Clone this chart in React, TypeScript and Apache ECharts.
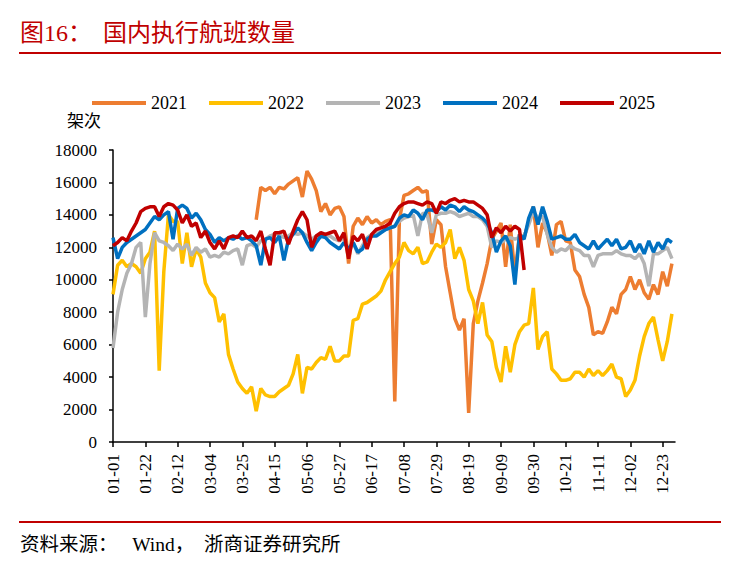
import React, { useEffect, useRef } from "react";
import * as echarts from "echarts";

// Sampled every 3 days from 01-01 (leap-year calendar, 366 days on axis)
const seriesNames = ["2021", "2022", "2023", "2024", "2025"];
const seriesColors = ["#ED7D31", "#FFC000", "#B4B4B4", "#0070C0", "#C00000"];

const v2021: (number | null)[] = [
  null, null, null, null, null, null, null, null, null, null,
  null, null, null, null, null, null, null, null, null, null,
  null, null, null, null, null, null, null, null, null, null,
  null, 13700, 15700, 15500, 15700, 15300, 15700, 15600, 15900, 16100,
  16300, 15100, 16700, 16200, 15500, 14200, 14700, 14000, 14400, 14500,
  13900, 11000, 13300, 13800, 13400, 13900, 13500, 13700, 13400, 13600,
  13700, 2500, 13700, 15200, 15300, 15500, 15700, 15400, 15500, 12200,
  13700, 13400, 10800, 9200, 7600, 6900, 7600, 1800, 7300, 8700,
  9800, 11000, 12500, 13000, 13500, 10800, 13400, 10300, 12800, 12600,
  13600, 14500, 12000, 13500, 12900, 11500, 13400, 13600, 12400, 12300,
  10600, 10200, 9100, 8300, 6600, 6800, 6700, 7400, 8300, 7900,
  9100, 9400, 10200, 9400, 10000, 9200, 8800, 9700, 9100, 10500,
  9600, 11000,
];

const v2022: (number | null)[] = [
  9100, 10900, 11200, 10800, 11000, 10800, 10400, 11300, 11700, 13000,
  4400, 10500, 14000, 13600, 13600, 11000, 12900, 10800, 11900, 11400,
  9800, 9200, 8900, 7400, 7900, 5400, 4500, 3700, 3300, 3000,
  3400, 1900, 3300, 2900, 2800, 2800, 3100, 3300, 3500, 4200,
  5400, 3000, 4600, 4500, 4900, 5200, 5100, 5900, 5000, 5000,
  5300, 5300, 7500, 7600, 8500, 8600, 8800, 9000, 9300, 10000,
  10500, 11000, 11400, 12300, 11800, 11600, 12000, 11000, 11100, 11700,
  12200, 12000, 12300, 13100, 11300, 12000, 11200, 9400, 8700, 7300,
  8600, 6600, 6200, 4600, 3700, 5900, 4300, 6000, 6800, 7200,
  7300, 9500, 5700, 6500, 6800, 4500, 4200, 3800, 3800, 3900,
  4300, 4300, 4000, 4500, 4100, 4400, 4100, 4400, 4800, 4000,
  3900, 2800, 3200, 3800, 5300, 6500, 7300, 7700, 6300, 5000,
  6200, 7900,
];

const v2023: (number | null)[] = [
  5800, 8000, 9400, 10400, 11000, 12000, 12300, 7700, 11000, 12900,
  12400, 12300, 12100, 11800, 12200, 11900, 12200, 11500, 12000, 11700,
  11900, 11400, 11500, 11400, 11700, 11600, 11800, 11900, 10900, 12100,
  12200, 12000, 12400, 12500, 12700, 12800, 12800, 12600, 12700, 12900,
  12800, 12900, 12700, 12500, 12700, 12800, 12700, 12700, 12500, 12400,
  12600, 11700, 12300, 11600, 12100, 12600, 12800, 12900, 13000, 13100,
  13200, 13300, 13600, 13800, 13900, 14000, 12700, 14100, 14000, 12900,
  14000, 14100, 14100, 14200, 14100, 13900, 14000, 14100, 13900, 13900,
  13700, 13300, 12000, 12400, 12300, 12500, 12600, 12500, 12600, 12700,
  13400, 14200, 13800, 13900, 12800, 12000, 11700, 11900, 11800, 12100,
  11900, 11800, 11500, 11500, 10800, 11500, 11600, 11600, 11600, 11800,
  11600, 11500, 11500, 11300, 11600, 11000, 9600, 11600, 11600, 11800,
  12000, 11300,
];

const v2024: (number | null)[] = [
  12600, 11300, 12000, 12300, 12500, 12700, 12900, 13100, 13500, 13900,
  13700, 14000, 14200, 12500, 14400, 14600, 14400, 13800, 14100, 13700,
  13100, 12800, 12300, 12600, 12400, 12600, 12500, 12700, 12500, 12600,
  12400, 12100, 10900, 12500, 12600, 12300, 12700, 11200, 12500, 12800,
  13200, 12900, 12300, 11800, 12300, 12700, 12600, 12300, 12100, 11900,
  12300, 11900, 12300, 11700, 11900, 12500, 12700, 12700, 12900, 13100,
  13200, 13300, 13800, 14000, 13900, 14300, 14100, 13700, 14300, 14300,
  14200, 14500, 14300, 14600, 14500, 14200, 14500, 14300, 14200, 14000,
  13800, 13500, 12900, 11700, 12400, 12700, 12100, 9700, 12800, 12500,
  13800, 14500, 13400, 14500, 13600, 12500, 12600, 12700, 12500, 12500,
  12800, 12300, 12100, 11900, 12400, 11900, 12200, 12500, 12100, 12500,
  11900, 12000, 12400, 11700, 12200, 11600, 12400, 11700, 12300, 11900,
  12500, 12300,
];

const v2025: (number | null)[] = [
  12100, 12300, 12600, 12400, 13000, 13500, 14200, 14400, 14500, 14500,
  13900, 14500, 14700, 14600, 14300, 13500, 14000, 13300, 13500, 12600,
  13000, 12300, 11900, 12400, 11900, 12600, 12700, 12600, 13000, 12600,
  12700, 12400, 13000, 11900, 10900, 12900, 12900, 13000, 12200, 13000,
  13700, 14200, 13700, 12000, 12700, 12900, 12800, 12900, 13000, 12400,
  12900, 11300, 12700, 12400, 12800, 11900, 12800, 13100, 13200, 13300,
  13500, 14100, 14500, 14700, 14800, 14800, 14700, 14600, 14800, 14700,
  14100, 14800, 14700, 14900, 15000, 14800, 14900, 14800, 14800, 14600,
  14400, 14000, 12600, 13200, 12900, 13300, 13000, 13300, 13100, 10600,
];

const seriesValues = [v2021, v2022, v2023, v2024, v2025];
const sampleStep = 3;

// Category labels: every day of the (leap) year, MM-DD
function buildDates(): string[] {
  const out: string[] = [];
  const start = Date.UTC(2024, 0, 1);
  for (let d = 0; d < 366; d++) {
    const dt = new Date(start + d * 86400000);
    const mm = String(dt.getUTCMonth() + 1).padStart(2, "0");
    const dd = String(dt.getUTCDate()).padStart(2, "0");
    out.push(mm + "-" + dd);
  }
  return out;
}
const dateCategories = buildDates();

const yMin = 0;
const yMax = 18000;
const yInterval = 2000;

const SERIF = "'Liberation Serif', 'Times New Roman', 'Noto Sans CJK SC', serif";

export default function App() {
  const ref = useRef<HTMLDivElement>(null);

  useEffect(() => {
    if (!ref.current) return;
    const chart = echarts.init(ref.current, undefined, { renderer: "svg" });

    const series = seriesNames.map((name, k) => ({
      name,
      type: "line" as const,
      showSymbol: false,
      symbol: "none",
      connectNulls: false,
      z: 2 + k,
      lineStyle: { width: 3.5, color: seriesColors[k] },
      itemStyle: { color: seriesColors[k] },
      data: seriesValues[k].map((v, i) => [i * sampleStep, v == null ? "-" : v]),
    }));

    chart.setOption({
      animation: false,
      backgroundColor: "#ffffff",
      legend: {
        data: seriesNames,
        left: 92,
        top: 94,
        padding: 0,
        icon: "rect",
        itemWidth: 54,
        itemHeight: 4,
        itemGap: 22,
        textStyle: { fontFamily: SERIF, fontSize: 18, color: "#000" },
      },
      grid: { left: 113, right: 60, top: 150, bottom: 123, containLabel: false },
      xAxis: {
        type: "category",
        data: dateCategories,
        boundaryGap: false,
        axisLine: { lineStyle: { color: "#000", width: 1.5 } },
        axisTick: { show: true, interval: 20, inside: false, length: 5, lineStyle: { color: "#000", width: 1.5 } },
        axisLabel: {
          interval: 20,
          rotate: 90,
          margin: 12,
          fontFamily: SERIF,
          fontSize: 17,
          color: "#000",
        },
        splitLine: { show: false },
      },
      yAxis: {
        type: "value",
        min: yMin,
        max: yMax,
        interval: yInterval,
        axisLine: { show: true, lineStyle: { color: "#000", width: 1.5 } },
        axisTick: { show: true, inside: false, length: 4, lineStyle: { color: "#000", width: 1.5 } },
        axisLabel: {
          margin: 16,
          fontFamily: SERIF,
          fontSize: 17,
          color: "#000",
          formatter: (v: number) => String(v),
        },
        splitLine: { show: false },
      },
      graphic: [
        {
          type: "text",
          left: 20,
          top: 21,
          style: { text: "图16：", fill: "#C00000", font: "24px " + SERIF },
        },
        {
          type: "text",
          left: 103,
          top: 21,
          style: { text: "国内执行航班数量", fill: "#C00000", font: "24px " + SERIF },
        },
        {
          type: "line",
          shape: { x1: 19, y1: 53, x2: 721, y2: 53 },
          style: { stroke: "#C00000", lineWidth: 2 },
        },
        {
          type: "text",
          left: 67,
          top: 113,
          style: { text: "架次", fill: "#000", font: "17px " + SERIF },
        },
        {
          type: "line",
          shape: { x1: 19, y1: 522, x2: 721, y2: 522 },
          style: { stroke: "#C00000", lineWidth: 2 },
        },
        {
          type: "text",
          left: 20,
          top: 535,
          style: { text: "资料来源：　 Wind，  浙商证券研究所", fill: "#000", font: "19.5px " + SERIF },
        },
      ],
      series,
    });

    return () => chart.dispose();
  }, []);

  return (
    <div
      ref={ref}
      style={{ position: "fixed", left: 0, top: 0, width: 735, height: 565, background: "#fff" }}
    />
  );
}
